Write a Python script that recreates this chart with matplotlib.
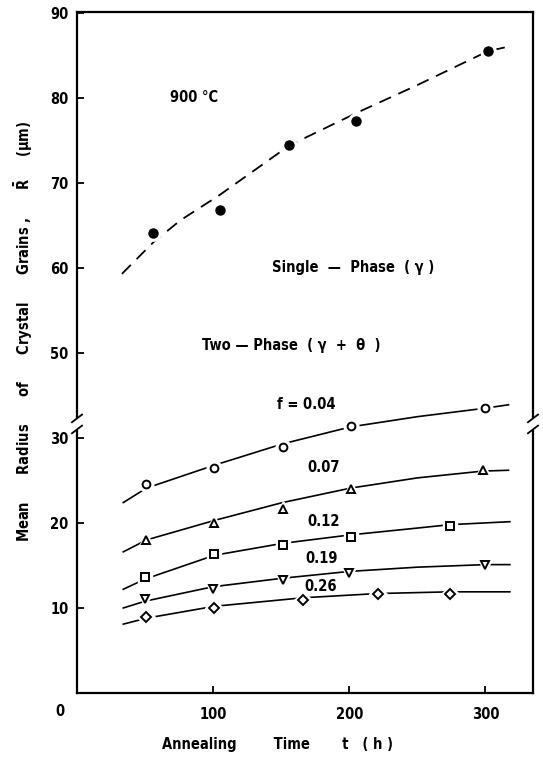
import matplotlib
matplotlib.use("Agg")
import matplotlib.pyplot as plt
from matplotlib.transforms import blended_transform_factory

plt.rcParams['font.family'] = ['DejaVu Sans']
plt.rcParams['font.stretch'] = 'condensed'
plt.rcParams['mathtext.fontset'] = 'dejavusans'

# ---- data -----------------------------------------------------------------
# single phase (gamma) at 900 C
single_t = [56, 105, 156, 205, 302]
single_r = [64.1, 66.8, 74.5, 77.3, 85.5]
single_fit_t = [33, 56, 76, 105, 156, 205, 250, 302, 319]
single_fit_r = [59.3, 63.0, 65.6, 68.6, 74.4, 78.2, 81.5, 85.5, 86.1]

# two phase (gamma + theta), volume fraction f of theta
f004_t = [51, 101, 151, 201, 300]
f004_r = [24.6, 26.5, 28.9, 31.4, 33.5]
f004_fit_t = [34, 51, 101, 151, 201, 250, 300, 317]
f004_fit_r = [22.4, 24.1, 26.8, 29.3, 31.3, 32.5, 33.5, 33.9]

f007_t = [51, 101, 151, 201, 298]
f007_r = [18.0, 20.0, 21.7, 24.0, 26.2]
f007_fit_t = [34, 51, 101, 151, 201, 250, 298, 317]
f007_fit_r = [16.6, 18.0, 20.3, 22.4, 24.1, 25.3, 26.1, 26.2]

f012_t = [50, 101, 151, 201, 274]
f012_r = [13.6, 16.3, 17.4, 18.4, 19.6]
f012_fit_t = [34, 50, 101, 151, 201, 250, 274, 318]
f012_fit_r = [12.2, 13.4, 16.2, 17.6, 18.6, 19.4, 19.8, 20.15]

f019_t = [50, 100, 151, 200, 300]
f019_r = [11.0, 12.2, 13.3, 14.1, 15.1]
f019_fit_t = [34, 50, 100, 151, 200, 250, 300, 318]
f019_fit_r = [10.0, 10.8, 12.5, 13.5, 14.3, 14.8, 15.1, 15.1]

f026_t = [51, 101, 166, 221, 274]
f026_r = [8.9, 10.0, 10.9, 11.6, 11.7]
f026_fit_t = [34, 51, 101, 166, 221, 274, 318]
f026_fit_r = [8.1, 8.8, 10.2, 11.2, 11.7, 11.9, 11.9]

fraction_labels = ['f = 0.04', '0.07', '0.12', '0.19', '0.26']
fraction_markers = ['o', '^', 's', 'v', 'D']

x_ticks = [100, 200, 300]
y_ticks_low = [10, 20, 30]
y_ticks_high = [50, 60, 70, 80, 90]

# values above the break are shifted down by GAP (the 30-40 range is cut out)
GAP = 10.0


def shift(values):
    return [v - GAP for v in values]


# ---- figure ---------------------------------------------------------------
W, H = 543, 761
fig = plt.figure(figsize=(W / 100, H / 100), dpi=100)
ax = fig.add_axes([77 / W, 1 - 693 / H, (533 - 77) / W, (693 - 12) / H])
ax.set_xlim(0, 335)
ax.set_ylim(0, 80.1)

FS = 10.5
bold = dict(fontweight='bold', fontsize=FS, fontstretch='condensed')

# single phase
ax.plot(single_fit_t, shift(single_fit_r), color='black', lw=1.3,
        linestyle=(0, (7, 4.5)), zorder=2)
ax.plot(single_t, shift(single_r), linestyle='none', marker='o', ms=11,
        mfc='white', mec='white', zorder=3)
ax.plot(single_t, shift(single_r), linestyle='none', marker='o', ms=6.5,
        mfc='black', mec='black', zorder=4)

# two phase
series = [
    (f004_t, f004_r, f004_fit_t, f004_fit_r),
    (f007_t, f007_r, f007_fit_t, f007_fit_r),
    (f012_t, f012_r, f012_fit_t, f012_fit_r),
    (f019_t, f019_r, f019_fit_t, f019_fit_r),
    (f026_t, f026_r, f026_fit_t, f026_fit_r),
]
marker_size = {'o': 5.6, '^': 6.2, 's': 5.2, 'v': 6.2, 'D': 4.6}
for (pt, pr, ft, fr), mk in zip(series, fraction_markers):
    ms = marker_size[mk]
    ax.plot(ft, fr, color='black', lw=1.2, zorder=2)
    ax.plot(pt, pr, linestyle='none', marker=mk, ms=ms + 5,
            mfc='white', mec='white', zorder=3)
    ax.plot(pt, pr, linestyle='none', marker=mk, ms=ms,
            mfc='white', mec='black', mew=1.4, zorder=4)

# annotations
ax.text(68, 70.1, '900 °C', ha='left', va='center', **bold)
ax.text(143, 50.0, 'Single  —  Phase  ( γ )', ha='left', va='center', **bold)
ax.text(92, 40.9, 'Two — Phase  ( γ  +  θ  )', ha='left', va='center', **bold)
label_pos = [(147, 33.9), (169, 26.5), (169, 20.2), (168, 15.8), (167, 12.5)]
for text, (lx, ly) in zip(fraction_labels, label_pos):
    ax.text(lx, ly, text, ha='left', va='center', **bold)

# axes, ticks
ax.set_xticks(x_ticks)
ax.set_xticklabels([str(v) for v in x_ticks], **bold)
y_pos = y_ticks_low + shift(y_ticks_high)
ax.set_yticks(y_pos)
ax.set_yticklabels([str(v) for v in y_ticks_low + y_ticks_high], **bold)
ax.tick_params(direction='in', length=5, width=1.3)
ax.tick_params(axis='x', pad=10)
ax.tick_params(axis='y', pad=6)
for sp in ax.spines.values():
    sp.set_linewidth(1.6)
fig.text(60 / W, 1 - 712 / H, '0', ha='center', va='center', **bold)

# axis break on both vertical spines
bt = blended_transform_factory(ax.transAxes, ax.transData)
b0, b1 = 31.0, 32.3
for xa in (0.0, 1.0):
    ax.plot([xa, xa], [b0, b1], color='white', lw=4, transform=bt,
            clip_on=False, zorder=6, solid_capstyle='butt')
    for yb in (b0, b1):
        ax.plot([xa - 0.011, xa + 0.011], [yb - 0.45, yb + 0.45], color='black',
                lw=1.3, transform=bt, clip_on=False, zorder=7)

# axis titles
fig.text(24 / W, 1 - 331 / H,
         r'Mean      Radius      of      Crystal      Grains ,      $\mathbf{\bar{R}}$     ($\mathbf{\mu}$m)',
         rotation=90, ha='center', va='center', **bold)
fig.text(162 / W, 1 - 745 / H, 'Annealing        Time       t   ( h )',
         ha='left', va='center', **bold)

fig.savefig('out.png', dpi=100)
